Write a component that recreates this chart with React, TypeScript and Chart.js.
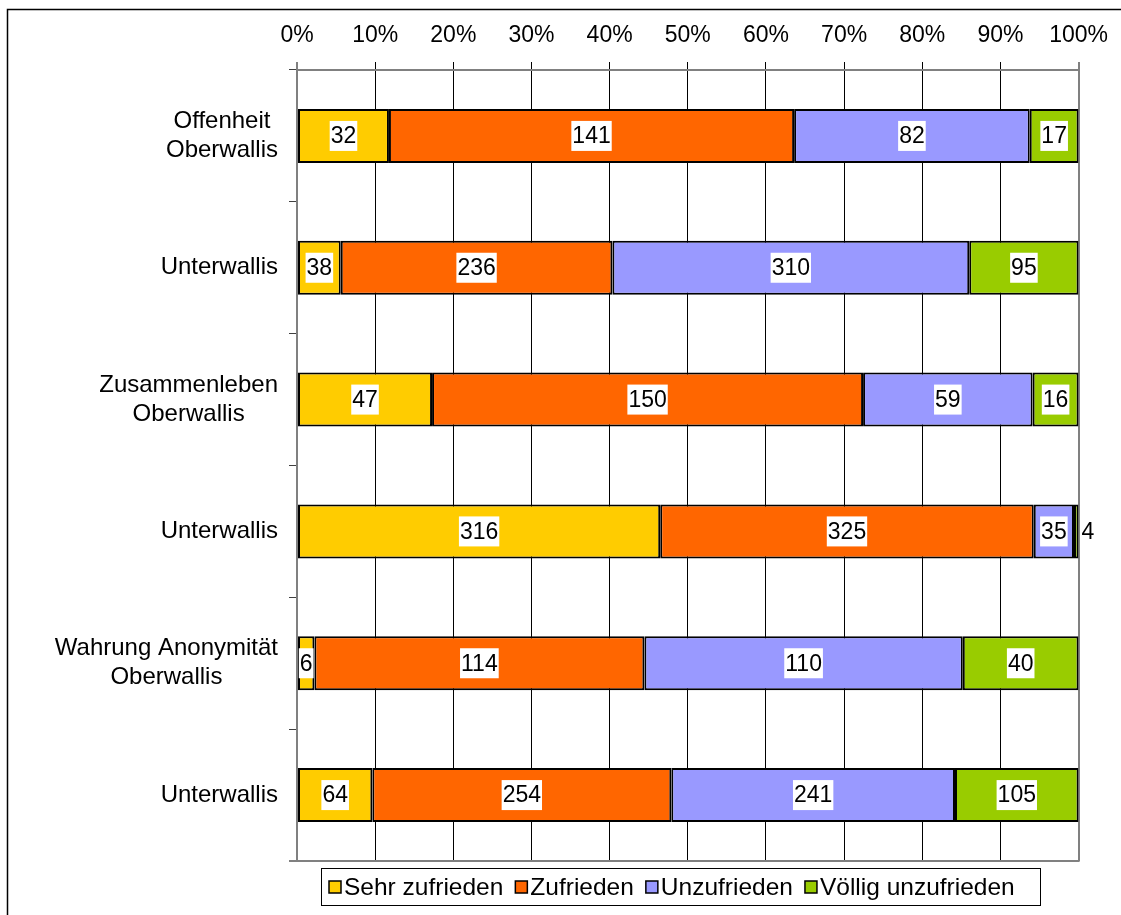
import React, { useEffect, useRef } from "react";
import { Chart, registerables } from "chart.js";

Chart.register(...registerables);

const categories: string[][] = [
  ["Offenheit", "Oberwallis"],
  ["Unterwallis"],
  ["Zusammenleben", "Oberwallis"],
  ["Unterwallis"],
  ["Wahrung Anonymität", "Oberwallis"],
  ["Unterwallis"],
];

const seriesNames = ["Sehr zufrieden", "Zufrieden", "Unzufrieden", "Völlig unzufrieden"];
const seriesColors = ["#FFCC00", "#FF6600", "#9999FF", "#99CC00"];

const sehrZufrieden = [32, 38, 47, 316, 6, 64];
const zufrieden = [141, 236, 150, 325, 114, 254];
const unzufrieden = [82, 310, 59, 35, 110, 241];
const voelligUnzufrieden = [17, 95, 16, 4, 40, 105];

const tickValues = [0, 10, 20, 30, 40, 50, 60, 70, 80, 90, 100];

const FONT = '"Liberation Sans", Arial, sans-serif';

export default function App() {
  const ref = useRef<HTMLCanvasElement | null>(null);

  useEffect(() => {
    document.body.style.margin = "0";
    const counts = [sehrZufrieden, zufrieden, unzufrieden, voelligUnzufrieden];
    const totals = categories.map((_, i) => counts.reduce((s, arr) => s + arr[i], 0));
    const labels = categories.map((c) => c.join(" "));

    const overlay = {
      id: "overlay",
      afterDatasetsDraw(chart: any) {
        const ctx = chart.ctx;
        ctx.save();
        ctx.font = `23px ${FONT}`;
        ctx.textBaseline = "middle";
        chart.data.datasets.forEach((ds: any, di: number) => {
          const meta = chart.getDatasetMeta(di);
          meta.data.forEach((el: any, i: number) => {
            const txt = String(counts[di][i]);
            const w = ctx.measureText(txt).width;
            const left = Math.min(el.x, el.base);
            const right = Math.max(el.x, el.base);
            const seg = right - left;
            if (w + 2 > seg) {
              ctx.textAlign = "left";
              ctx.fillStyle = "#000";
              ctx.fillText(txt, right + 3, el.y + 1);
            } else {
              const cx = (left + right) / 2;
              ctx.fillStyle = "#fff";
              ctx.fillRect(cx - w / 2 - 1, el.y - 15, w + 2, 30);
              ctx.fillStyle = "#000";
              ctx.textAlign = "center";
              ctx.fillText(txt, cx, el.y + 1);
            }
          });
        });
        ctx.restore();
      },
      afterDraw(chart: any) {
        const ctx = chart.ctx;
        const area = chart.chartArea;
        const yScale = chart.scales.y;
        ctx.save();
        // plot bottom line
        ctx.strokeStyle = "#808080";
        ctx.lineWidth = 2;
        ctx.beginPath();
        ctx.moveTo(area.left - 8, area.bottom);
        ctx.lineTo(area.right + 1, area.bottom);
        ctx.stroke();
        // category labels
        ctx.font = `24px ${FONT}`;
        ctx.fillStyle = "#000";
        ctx.textAlign = "center";
        ctx.textBaseline = "middle";
        const lh = 29;
        categories.forEach((lines, i) => {
          const y = yScale.getPixelForValue(i);
          const widest = Math.max(...lines.map((l) => ctx.measureText(l).width));
          const cx = 278 - widest / 2;
          lines.forEach((l, k) => {
            ctx.fillText(l, cx, y + (k - (lines.length - 1) / 2) * lh);
          });
        });
        // legend
        ctx.font = `24.5px ${FONT}`;
        ctx.textAlign = "left";
        ctx.strokeStyle = "#000";
        ctx.lineWidth = 1;
        ctx.strokeRect(321.5, 868.5, 719, 37);
        let x = 329;
        const ly = 887;
        seriesNames.forEach((n, k) => {
          ctx.fillStyle = seriesColors[k];
          ctx.fillRect(x, ly - 6, 12, 12);
          ctx.lineWidth = 1.5;
          ctx.strokeStyle = "#000";
          ctx.strokeRect(x, ly - 6, 12, 12);
          ctx.fillStyle = "#000";
          ctx.fillText(n, x + 15, ly + 1);
          x += 15 + ctx.measureText(n).width + 12;
        });
        // outer border
        ctx.lineWidth = 1.5;
        ctx.strokeStyle = "#000";
        ctx.beginPath();
        ctx.moveTo(7.5, 915);
        ctx.lineTo(7.5, 9.5);
        ctx.lineTo(1121, 9.5);
        ctx.stroke();
        ctx.restore();
      },
    };

    const chart = new Chart(ref.current!, {
      type: "bar",
      data: {
        labels,
        datasets: counts.map((arr, di) => ({
          label: seriesNames[di],
          data: arr.map((v, i) => (v / totals[i]) * 100),
          backgroundColor: seriesColors[di],
          borderColor: "#000",
          borderWidth: 2,
          borderSkipped: false,
          barPercentage: 0.41,
          categoryPercentage: 1,
        })),
      },
      options: {
        indexAxis: "y",
        animation: false,
        responsive: false,
        layout: { padding: { left: 0, top: 0, right: 42, bottom: 54 } },
        plugins: { legend: { display: false }, tooltip: { enabled: false } },
        scales: {
          x: {
            position: "top",
            stacked: true,
            min: 0,
            max: 100,
            afterBuildTicks: (s: any) => {
              s.ticks = tickValues.map((v) => ({ value: v }));
            },
            afterFit: (s: any) => {
              s.height = 70;
            },
            ticks: {
              padding: 13,
              color: "#000",
              font: { family: FONT, size: 23 },
              callback: (v: any) => v + "%",
              maxRotation: 0,
            },
            grid: {
              drawTicks: true,
              tickLength: 8,
              color: (c: any) => (c.index === 0 || c.index === 10 ? "#808080" : "#000"),
              lineWidth: (c: any) => (c.index === 0 || c.index === 10 ? 2 : 1),
            },
            border: { display: true, color: "#808080", width: 2 },
          },
          y: {
            stacked: true,
            afterFit: (s: any) => {
              s.width = 297;
            },
            ticks: { display: false },
            grid: {
              offset: true,
              drawOnChartArea: false,
              drawTicks: true,
              tickLength: 8,
              color: "#404040",
              lineWidth: 1,
            },
            border: { display: true, color: "#808080", width: 2 },
          },
        },
      },
      plugins: [overlay],
    } as any);

    return () => chart.destroy();
  }, []);

  return (
    <div style={{ position: "absolute", left: 0, top: 0, width: 1121, height: 915 }}>
      <canvas ref={ref} width={1121} height={915} />
    </div>
  );
}
